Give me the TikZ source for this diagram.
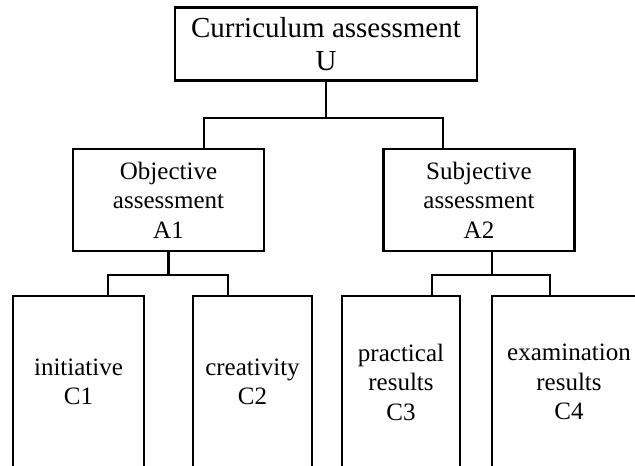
\documentclass[tikz,border=0pt]{standalone}
\usepackage{fontspec}
\setmainfont{Liberation Serif}
\begin{document}
\begin{tikzpicture}[
    x=1pt, y=-1pt,
    link/.style={line width=2.4pt},
    topbox/.style={rectangle, draw, line width=2.4pt, minimum width=302pt, minimum height=73pt, align=center, font=\fontsize{29}{33}\selectfont},
    midbox/.style={rectangle, draw, line width=2.4pt, minimum width=191pt, minimum height=102pt, align=center, font=\fontsize{25}{29.5}\selectfont},
    leafbox/.style={rectangle, draw, line width=2.4pt, minimum height=172pt, align=center, font=\fontsize{25}{29.5}\selectfont}
]
\clip (0,0) rectangle (635,466);

% Goal level
\node[topbox] (goal) at (326,44) {Curriculum assessment\\U};

% Criteria level
\node[midbox] (a1) at (168.5,200) {Objective\\assessment\\A1};
\node[midbox] (a2) at (479,200) {Subjective\\assessment\\A2};

% Indicator level
\node[leafbox, minimum width=131pt] (c1) at (78.5,382) {initiative\\C1};
\node[leafbox, minimum width=119pt] (c2) at (252.5,382) {creativity\\C2};
\node[leafbox, minimum width=118pt] (c3) at (401,382) {practical\\results\\C3};
\node[leafbox, minimum width=154pt] (c4) at (569,382) {examination\\results\\C4};

% Goal -> criteria
\draw[link] (goal.south) -- ++(0,36) coordinate (s0) -| ([xshift=35.5pt]a1.north);
\draw[link] (s0) -| ([xshift=-36pt]a2.north);

% A1 -> C1, C2
\draw[link] (a1.south) -- ++(0,23) coordinate (s1) -| ([xshift=29.5pt]c1.north);
\draw[link] (s1) -| ([xshift=-24.5pt]c2.north);

% A2 -> C3, C4
\draw[link] ([xshift=13pt]a2.south) -- ++(0,23) coordinate (s2) -| ([xshift=31pt]c3.north);
\draw[link] (s2) -| ([xshift=-19pt]c4.north);

\end{tikzpicture}
\end{document}
